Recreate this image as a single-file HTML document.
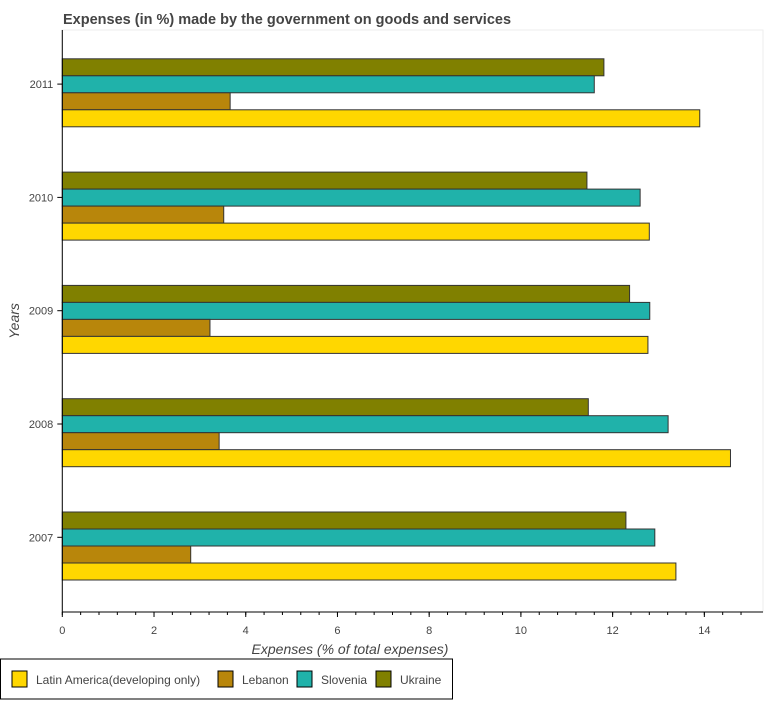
<!DOCTYPE html>
<html><head><meta charset="utf-8"><style>
body{margin:0;background:#fff;font-family:"Liberation Sans",Arial,sans-serif;}
svg text{font-family:"Liberation Sans",Arial,sans-serif;}
</style></head><body>
<svg id="chart" width="765" height="700" xmlns="http://www.w3.org/2000/svg">
<text x="63" y="24" font-size="14.5" font-weight="bold" fill="#444">Expenses (in %) made by the government on goods and services</text>
<rect x="62" y="30" width="701" height="582" fill="#fff" stroke="#eee"/>
<g id="bars"></g>
<g id="axes"></g>
<text x="350" y="654" font-size="14" font-style="italic" fill="#444" text-anchor="middle">Expenses (% of total expenses)</text>
<text x="19" y="321" font-size="14" font-style="italic" fill="#444" text-anchor="middle" transform="rotate(-90 19 321)">Years</text>
<g>
<rect x="0.5" y="659" width="452" height="40" fill="#fff" stroke="#000"/>
<g id="legend"></g>
</g>
</svg>
<script>
const years=["2007","2008","2009","2010","2011"];
const latam=[13.38,14.57,12.77,12.8,13.9];
const lebanon=[2.8,3.42,3.22,3.52,3.66];
const slovenia=[12.92,13.21,12.81,12.6,11.6];
const ukraine=[12.29,11.47,12.37,11.44,11.81];
const seriesNames=["Latin America(developing only)","Lebanon","Slovenia","Ukraine"];
const xTicks=[0,2,4,6,8,10,12,14];
const colors=["#ffd700","#b8860b","#20b2aa","#808000"];
const NS="http://www.w3.org/2000/svg";
const x0=62.3,pxu=45.86;
function xs(v){return x0+v*pxu;}
function yt(i){return 537.3-i*113.3;}
function mk(t,a,p){const e=document.createElementNS(NS,t);for(const k in a)e.setAttribute(k,a[k]);p.appendChild(e);return e;}
const bars=document.getElementById('bars');
const series=[ukraine,slovenia,lebanon,latam];
const sc=[3,2,1,0];
years.forEach((y,i)=>{
 series.forEach((s,j)=>{
  const r=mk('rect',{x:x0,y:yt(i)-25.3+j*17,width:xs(s[i])-x0,height:17,fill:colors[sc[j]],stroke:'#333','stroke-width':1},bars);
  
  
 });
});
const ax=document.getElementById('axes');
mk('line',{x1:x0,y1:30,x2:x0,y2:612,stroke:'#000'},ax);
mk('line',{x1:x0,y1:612,x2:763,y2:612,stroke:'#000'},ax);
for(let v=0;v<=15.2;v+=0.4){mk('line',{x1:xs(v),y1:612,x2:xs(v),y2:615,stroke:'#000'},ax);}
xTicks.forEach(v=>{
 mk('line',{x1:xs(v),y1:612,x2:xs(v),y2:617,stroke:'#000'},ax);
 const t=mk('text',{x:xs(v),y:634,'font-size':11,fill:'#444','text-anchor':'middle'},ax);t.textContent=v;
 
 
});
years.forEach((y,i)=>{
 mk('line',{x1:x0-5,y1:yt(i),x2:x0,y2:yt(i),stroke:'#000'},ax);
 const t=mk('text',{x:x0-9,y:yt(i)+4,'font-size':11,fill:'#444','text-anchor':'end'},ax);t.textContent=y;
 
 
});
const lg=document.getElementById('legend');
const lx=[12,218,297,376];
seriesNames.forEach((n,k)=>{
 const r=mk('rect',{x:lx[k],y:671,width:15,height:16,fill:colors[k],stroke:'#000'},lg);
 
 
 const t=mk('text',{x:lx[k]+24,y:684,'font-size':12,fill:'#444'},lg);t.textContent=n;
 
 
});
</script>
</body></html>
